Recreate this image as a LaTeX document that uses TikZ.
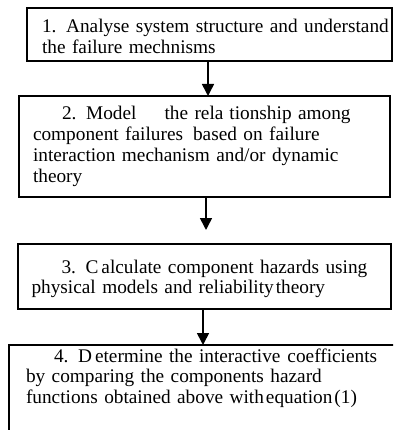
\documentclass[tikz,border=0pt]{standalone}
\usepackage{fontspec}
\setmainfont{Liberation Serif}
\usetikzlibrary{arrows.meta, positioning}

\begin{document}
\begin{tikzpicture}[x=1pt, y=-1pt]
\tikzstyle{block} = [rectangle, draw, line width=1.5pt, text=black, align=left,
    anchor=north west, inner ysep=0pt, outer sep=0pt,
    font=\fontsize{19.3}{20.7}\selectfont]
\tikzstyle{line} = [draw, line width=1.6pt, -{Triangle[width=12pt,length=12pt]}]
\useasboundingbox (0,0) rectangle (393,430);
\clip (0,0) rectangle (393,430);
    % Place nodes
    \node [block, inner xsep=15pt, text width=335pt, text height=25pt, text depth=28pt] (analyse) at (27,8)
        {\mbox{1. Analyse system structure and understand}\\the failure mechnisms};
    \node [block, inner xsep=14pt, text width=343pt, text height=24pt, text depth=77pt] (model) at (19,96)
        {\hspace*{29pt}2. Model\hspace{28pt}the rela\hspace{6pt}tionship among\\component failures\hspace{10pt}based on failure\\interaction mechanism and/or dynamic\\theory};
    \node [block, inner xsep=13.5pt, text width=346pt, text height=29pt, text depth=36pt] (calculate) at (18,244)
        {\mbox{\hspace*{30pt}3. C\hspace{3pt}alculate component hazards using}\\physical models and reliability\hspace{2pt}theory};
    \node [block, inner xsep=17pt, text width=370pt, text height=17pt, text depth=90pt] (determine) at (9,345)
        {\hspace*{28pt}4. D\hspace{3pt}etermine the interactive\hspace{7pt}coefficients\\by comparing the components hazard\\functions obtained above with\hspace{2pt}equation\hspace{2pt}(1)};
    \coordinate (gap) at ([yshift=14pt, xshift=1.5pt]model.south |- calculate.north);

%paths
    \path [line] ([xshift=-1.5pt]analyse.south) -- ([xshift=-1.5pt]analyse.south |- model.north);
    \path [line] ([xshift=1.5pt]model.south) -- (gap);
    \path [line] ([xshift=-1.5pt]calculate.south) -- ([xshift=-1.5pt]calculate.south |- determine.north);

\end{tikzpicture}
\end{document}
